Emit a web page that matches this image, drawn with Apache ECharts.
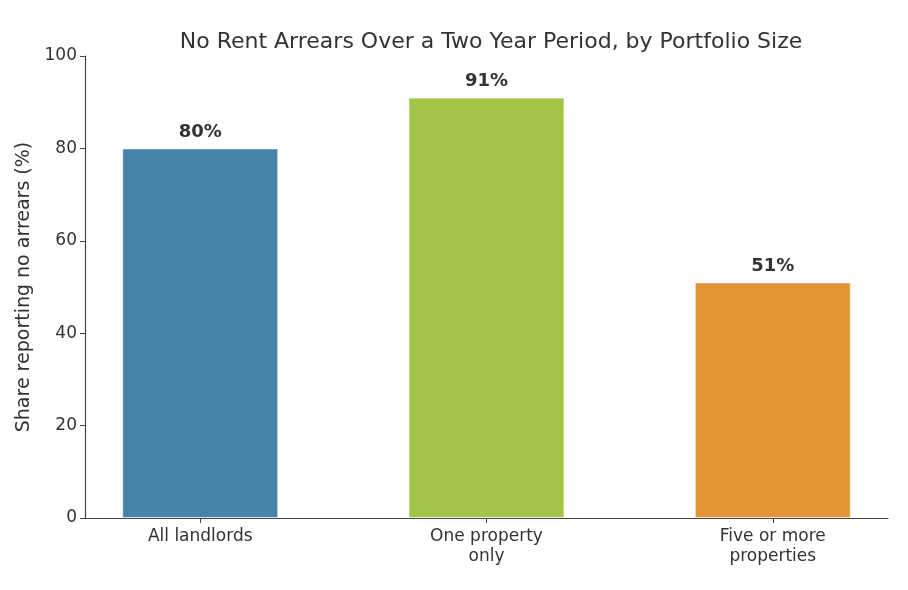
<!DOCTYPE html>
<html>
<head>
<meta charset="utf-8">
<script src="https://cdn.jsdelivr.net/npm/echarts@6/dist/echarts.min.js"></script>
<style>
  html, body { margin: 0; padding: 0; background: #fff; }
  #chart { width: 908px; height: 590px; }
</style>
</head>
<body>
<div id="chart"></div>
<script>
// data
const categories = ['All landlords', 'One property\nonly', 'Five or more\nproperties'];
const shares = [80, 91, 51];
const barColors = ['#4682a9', '#a2c548', '#e39535'];
const yTicks = { min: 0, max: 100, interval: 20 };

const chart = echarts.init(document.getElementById('chart'));
const font = 'DejaVu Sans';
const positions = categories.map((c, i) => i);

const option = {
  backgroundColor: '#ffffff',
  animation: false,
  title: {
    text: 'No Rent Arrears Over a Two Year Period, by Portfolio Size',
    left: 486,
    textAlign: 'center',
    top: 26,
    textStyle: { fontFamily: font, fontSize: 22, fontWeight: 'normal', color: '#333' }
  },
  grid: { left: 85, right: 20, top: 56, bottom: 72 },
  xAxis: {
    type: 'value',
    min: -0.4025,
    max: 2.4025,
    axisLine: { show: true, onZero: false, lineStyle: { color: '#444', width: 1.2 } },
    axisTick: { show: true, customValues: positions, length: 5, lineStyle: { color: '#444' } },
    axisLabel: {
      customValues: positions,
      formatter: v => categories[Math.round(v)],
      margin: 9,
      fontFamily: font, fontSize: 17, color: '#333', lineHeight: 20
    },
    splitLine: { show: false }
  },
  yAxis: {
    type: 'value',
    min: yTicks.min,
    max: yTicks.max,
    interval: yTicks.interval,
    name: 'Share reporting no arrears (%)',
    nameLocation: 'middle',
    nameGap: 50,
    nameTextStyle: { fontFamily: font, fontSize: 19, color: '#333' },
    axisLine: { show: true, onZero: false, lineStyle: { color: '#444', width: 1.2 } },
    axisTick: { show: true, length: 5, lineStyle: { color: '#444' } },
    axisLabel: { margin: 8, fontFamily: font, fontSize: 17, color: '#333' },
    splitLine: { show: false }
  },
  series: [{
    type: 'bar',
    barWidth: 156,
    data: shares.map((v, i) => ({
      value: [i, v],
      itemStyle: { color: barColors[i], borderColor: 'rgba(255,255,255,0.6)', borderWidth: 1 }
    })),
    label: {
      show: true,
      position: 'top',
      distance: 7,
      formatter: p => p.value[1] + '%',
      fontFamily: font, fontSize: 18, fontWeight: 'bold', color: '#333'
    }
  }]
};

chart.setOption(option);
</script>
</body>
</html>
